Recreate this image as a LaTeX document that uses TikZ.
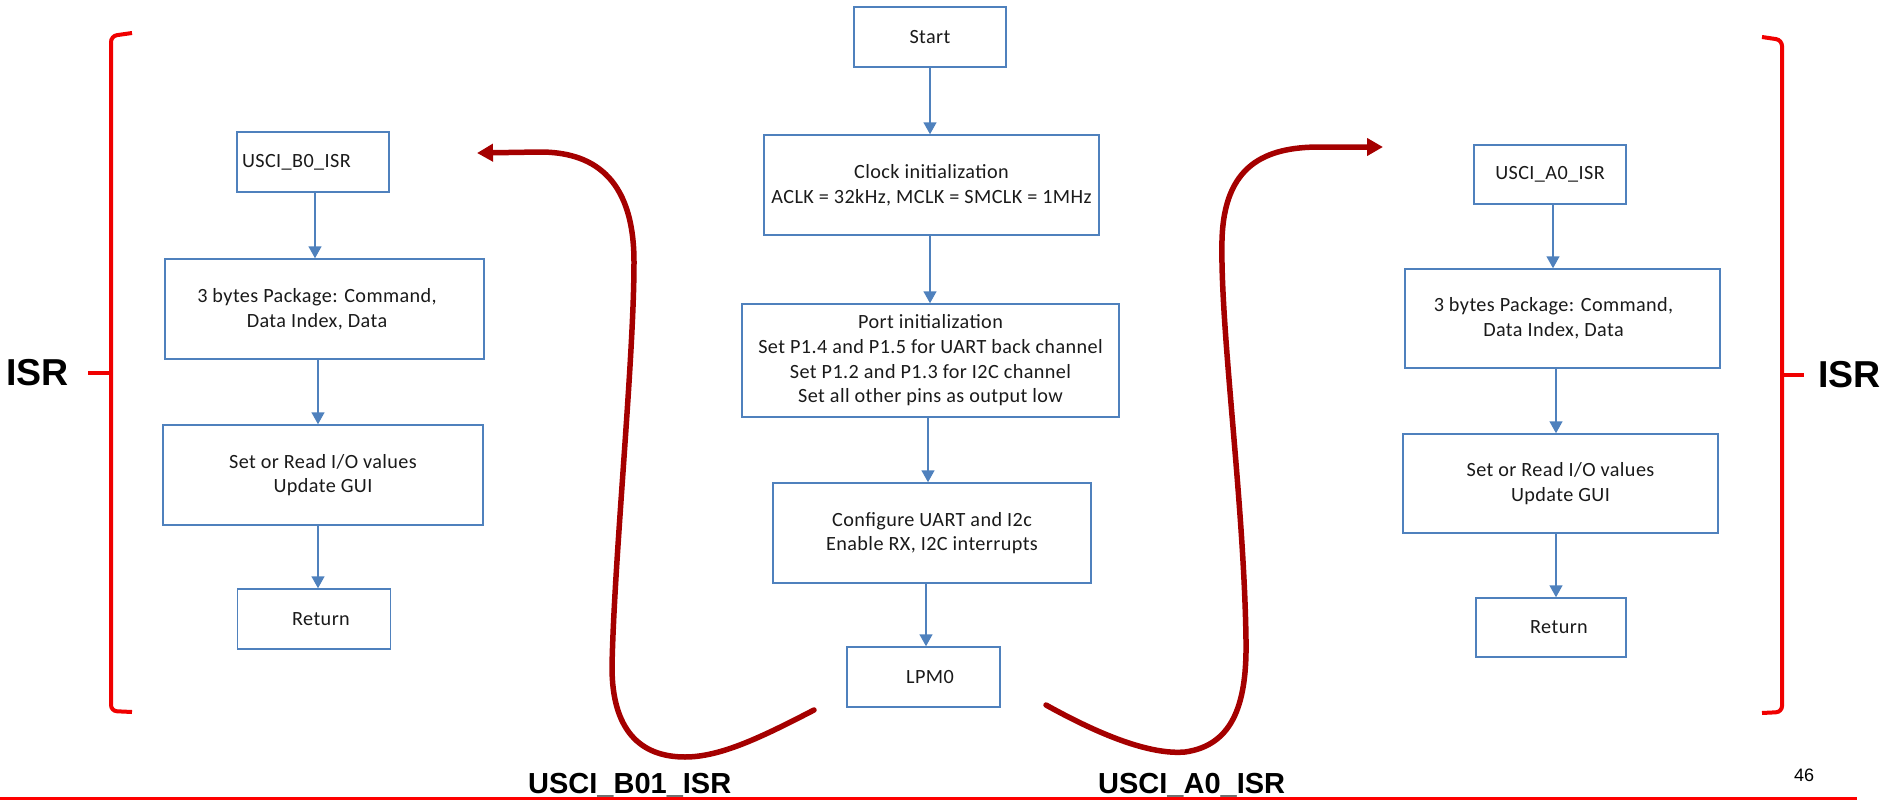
\documentclass[tikz,border=0pt]{standalone}
\usepackage{fontspec}
\setmainfont{Carlito}[LetterSpace=2]
\newfontfamily\labelfont{Liberation Sans}
\usetikzlibrary{arrows.meta}

\definecolor{boxblue}{HTML}{4F81BD}
\definecolor{textdark}{HTML}{1A1A1A}
\definecolor{arcred}{HTML}{A50000}
\definecolor{bracered}{HTML}{F00000}
\definecolor{rulered}{HTML}{FF0000}

\tikzset{
  fbox/.style={draw=boxblue, line width=1.5pt, inner sep=0pt, align=center,
    text=textdark, font=\fontsize{20.2}{24.6}\selectfont},
  flow/.style={draw=boxblue, line width=1.6pt, -{Triangle[width=13pt,length=12pt]}},
  israrc/.style={draw=arcred, line width=5.5pt, line cap=round,
    -{Triangle[width=17pt,length=16pt]}},
  isrbrace/.style={draw=bracered, line width=4pt, rounded corners=6pt},
  biglabel/.style={inner sep=0pt, anchor=base west,
    font=\labelfont\bfseries\fontsize{29}{29}\selectfont},
  isrlabel/.style={inner sep=0pt, anchor=base west,
    font=\labelfont\bfseries\fontsize{37.5}{37.5}\selectfont}
}

\begin{document}
\begin{tikzpicture}[x=1pt,y=-1pt]
\useasboundingbox (0,0) rectangle (1883,800);

% ---------- main program flow ----------
\node[fbox, minimum width=152pt, minimum height=60pt]  (start) at (930,37)    {Start};
\node[fbox, minimum width=335pt, minimum height=100pt] (clk)   at (931.5,185) {Clock initialization\\ACLK = 32kHz, MCLK = SMCLK = 1MHz};
\node[fbox, minimum width=377pt, minimum height=113pt] (port)  at (930.5,360.5) {Port initialization\\Set P1.4 and P1.5 for UART back channel\\Set P1.2 and P1.3 for I2C channel\\Set all other pins as output low};
\node[fbox, minimum width=318pt, minimum height=100pt] (cfg)   at (932,533)   {Configure UART and I2c\\Enable RX, I2C interrupts};
\node[fbox, minimum width=153pt, minimum height=60pt]  (lpm)   at (923.5,677) {\hspace*{13pt}LPM0};

\draw[flow] (start.south) -- (start.south |- clk.north);
\draw[flow] ([xshift=-1.5pt]clk.south) -- ([xshift=-1.5pt]clk.south |- port.north);
\draw[flow] ([xshift=-2.5pt]port.south) -- ([xshift=-2.5pt]port.south |- cfg.north);
\draw[flow] ([xshift=-6pt]cfg.south) -- ([xshift=-6pt]cfg.south |- lpm.north);

% ---------- USCI_B0 interrupt routine ----------
\node[fbox, minimum width=152pt, minimum height=60pt, text width=142pt, align=left] (b0) at (313,162) {USCI\_B0\_ISR};
\node[fbox, minimum width=319pt, minimum height=100pt] (b0pkg) at (324.5,309) {\hspace*{-15pt}3 bytes Package: Command,\\\hspace*{-15pt}Data Index, Data};
\node[fbox, minimum width=320pt, minimum height=100pt] (b0io)  at (323,475)   {Set or Read I/O values\\Update GUI};
\node[fbox, minimum width=153pt, minimum height=60pt]  (b0ret) at (314,619)   {\hspace*{14pt}Return};

\draw[flow] ([xshift=2pt]b0.south) -- ([xshift=2pt]b0.south |- b0pkg.north);
\draw[flow] ([xshift=-6.5pt]b0pkg.south) -- ([xshift=-6.5pt]b0pkg.south |- b0io.north);
\draw[flow] ([xshift=-5pt]b0io.south) -- ([xshift=-5pt]b0io.south |- b0ret.north);

% ---------- USCI_A0 interrupt routine ----------
\node[fbox, minimum width=152pt, minimum height=59pt]  (a0)    at (1550,174.5)  {USCI\_A0\_ISR};
\node[fbox, minimum width=315pt, minimum height=99pt]  (a0pkg) at (1562.5,318.5) {\hspace*{-18pt}3 bytes Package: Command,\\\hspace*{-18pt}Data Index, Data};
\node[fbox, minimum width=315pt, minimum height=99pt]  (a0io)  at (1560.5,483.5) {Set or Read I/O values\\Update GUI};
\node[fbox, minimum width=150pt, minimum height=59pt]  (a0ret) at (1551,627.5)  {\hspace*{16pt}Return};

\draw[flow] ([xshift=3pt]a0.south) -- ([xshift=3pt]a0.south |- a0pkg.north);
\draw[flow] ([xshift=-6.5pt]a0pkg.south) -- ([xshift=-6.5pt]a0pkg.south |- a0io.north);
\draw[flow] ([xshift=-4.5pt]a0io.south) -- ([xshift=-4.5pt]a0io.south |- a0ret.north);

% ---------- interrupt entry arcs ----------
\coordinate (lpmL) at (814,710);
\coordinate (lpmR) at (1046,705);
\coordinate (b0tip) at (477,153);
\coordinate (a0tip) at (1383,147);

\draw[israrc] (lpmL) .. controls (760,738) and (720,757) .. (685,757)
  .. controls (640,757) and (612,730) .. (612,667)
  .. controls (614,560) and (634,360) .. (634,262)
  .. controls (634,175) and (590,152) .. (540,152) -- (b0tip);

\draw[israrc] (lpmR) .. controls (1100,735) and (1150,755) .. (1185,752)
  .. controls (1235,745) and (1247,700) .. (1246,640)
  .. controls (1244,500) and (1220,330) .. (1222,240)
  .. controls (1224,165) and (1265,147) .. (1320,147) -- (a0tip);

\node[biglabel] (lblB) at (528,793) {USCI\_B01\_ISR};
\node[biglabel] (lblA) at (1098,793) {USCI\_A0\_ISR};

% ---------- ISR brackets ----------
\draw[isrbrace] (132,33) -- (111,36) -- (111,711) -- (132,712);
\draw[draw=bracered, line width=4pt] (88,373) -- (111,373);
\node[isrlabel] (isrL) at (6,385) {ISR};

\draw[isrbrace] (1762,37) -- (1782,40) -- (1782,712) -- (1762,713);
\draw[draw=bracered, line width=4pt] (1782,375) -- (1804,375);
\node[isrlabel] (isrR) at (1818,387) {ISR};

% ---------- page footer ----------
\node[inner sep=0pt, anchor=base west, font=\labelfont\fontsize{18}{18}\selectfont] (pgno) at (1794,781) {46};
\draw[draw=rulered, line width=3pt] (0,798.5) -- (1857,798.5);

\end{tikzpicture}
\end{document}
